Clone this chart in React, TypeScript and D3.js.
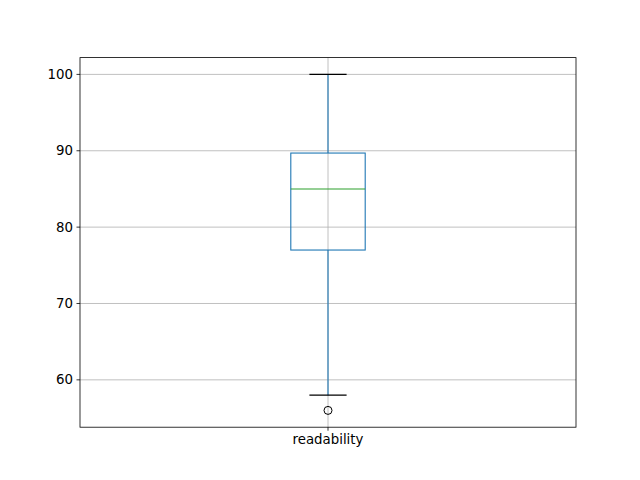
import * as d3 from 'd3';

const categories = ['readability'];
const lowerWhisker = [58];
const q1 = [77];
const median = [85];
const q3 = [89.7];
const upperWhisker = [100];
const fliers = [[56]];
const yTicks = [60, 70, 80, 90, 100];

export default function App() {
  const width = 640;
  const height = 480;
  const left = 80, right = 576, top = 57.6, bottom = 427.2;

  const x = d3.scaleLinear().domain([0.5, 1.5]).range([left, right]);
  const y = d3.scaleLinear().domain([53.8, 102.2]).range([bottom, top]);

  const boxW = 0.15;
  const capW = 0.075;
  const font = 'DejaVu Sans, sans-serif';
  const lw = 1.1;

  return (
    <div style={{ position: 'absolute', left: 0, top: 0 }}>
      <svg width={width} height={height} style={{ display: 'block', background: 'white' }}>
        {/* grid */}
        {yTicks.map(t => (
          <line key={'g' + t} x1={left} x2={right} y1={y(t)} y2={y(t)} stroke="#b0b0b0" strokeWidth={0.8} />
        ))}
        {categories.map((c, i) => (
          <line key={'gx' + c} x1={x(i + 1)} x2={x(i + 1)} y1={top} y2={bottom} stroke="#b0b0b0" strokeWidth={0.8} />
        ))}

        {categories.map((c, i) => {
          const cx = x(i + 1);
          const bx0 = x(i + 1 - boxW / 2);
          const bx1 = x(i + 1 + boxW / 2);
          const cx0 = x(i + 1 - capW / 2);
          const cx1 = x(i + 1 + capW / 2);
          return (
            <g key={c}>
              <line x1={cx} x2={cx} y1={y(q1[i])} y2={y(lowerWhisker[i])} stroke="#1f77b4" strokeWidth={lw} />
              <line x1={cx} x2={cx} y1={y(q3[i])} y2={y(upperWhisker[i])} stroke="#1f77b4" strokeWidth={lw} />
              <rect x={bx0} y={y(q3[i])} width={bx1 - bx0} height={y(q1[i]) - y(q3[i])} fill="none" stroke="#1f77b4" strokeWidth={lw} />
              <line x1={bx0} x2={bx1} y1={y(median[i])} y2={y(median[i])} stroke="#2ca02c" strokeWidth={lw} />
              <line x1={cx0} x2={cx1} y1={y(lowerWhisker[i])} y2={y(lowerWhisker[i])} stroke="black" strokeWidth={lw} />
              <line x1={cx0} x2={cx1} y1={y(upperWhisker[i])} y2={y(upperWhisker[i])} stroke="black" strokeWidth={lw} />
              {fliers[i].map((f, j) => (
                <circle key={j} cx={cx} cy={y(f)} r={4} fill="none" stroke="black" strokeWidth={1} />
              ))}
            </g>
          );
        })}

        {/* frame */}
        <rect x={left} y={top} width={right - left} height={bottom - top} fill="none" stroke="black" strokeWidth={0.8} />

        {/* y ticks */}
        {yTicks.map(t => (
          <g key={'t' + t}>
            <line x1={left - 3.5} x2={left} y1={y(t)} y2={y(t)} stroke="black" strokeWidth={0.8} />
            <text x={left - 7} y={y(t)} textAnchor="end" dominantBaseline="central" fontFamily={font} fontSize={13.33} fill="black">{t}</text>
          </g>
        ))}

        {/* x ticks */}
        {categories.map((c, i) => (
          <g key={'xt' + c}>
            <line x1={x(i + 1)} x2={x(i + 1)} y1={bottom} y2={bottom + 3.5} stroke="black" strokeWidth={0.8} />
            <text x={x(i + 1)} y={bottom + 7} textAnchor="middle" dominantBaseline="hanging" fontFamily={font} fontSize={13.33} fill="black">{c}</text>
          </g>
        ))}
      </svg>
    </div>
  );
}
